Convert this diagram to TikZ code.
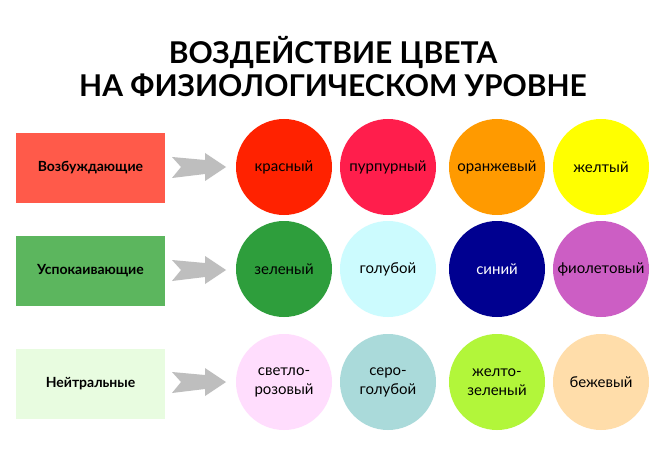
\documentclass[tikz,border=0pt]{standalone}
\usepackage{fontspec}
\setmainfont{Lato}
\usetikzlibrary{calc}
\definecolor{bred}{HTML}{FF5A4A}
\definecolor{bgreen}{HTML}{5CB65E}
\definecolor{bpale}{HTML}{E8FCE0}
\definecolor{c11}{HTML}{FF2200}
\definecolor{c12}{HTML}{FF1E4C}
\definecolor{c13}{HTML}{FF9A00}
\definecolor{c14}{HTML}{FFFF00}
\definecolor{c21}{HTML}{2E9E3C}
\definecolor{c22}{HTML}{CCFBFE}
\definecolor{c23}{HTML}{000090}
\definecolor{c24}{HTML}{CC5EC4}
\definecolor{c31}{HTML}{FFDDFD}
\definecolor{c32}{HTML}{AADADA}
\definecolor{c33}{HTML}{B2F63A}
\definecolor{c34}{HTML}{FFDDAA}
\definecolor{arrowgray}{HTML}{BEBEBE}
\begin{document}
\begin{tikzpicture}[x=1pt,y=-1pt,
  catbox/.style={minimum width=149pt,minimum height=70pt,inner sep=0pt,font=\bfseries\fontsize{14}{16}\selectfont},
  colcirc/.style={circle,minimum size=96pt,inner sep=0pt,align=center,font=\fontsize{15}{19}\selectfont},
  fatarrow/.style={fill=arrowgray,draw=none}]
\useasboundingbox (0,0) rectangle (666,465);
\fill[white] (0,0) rectangle (666,465);
\node[font=\bfseries\fontsize{30}{33}\selectfont,align=center] (title) at (333,67) {ВОЗДЕЙСТВИЕ ЦВЕТА\\НА ФИЗИОЛОГИЧЕСКОМ УРОВНЕ};
% category boxes
\node[catbox,fill=bred] (b1) at (90.5,168) {Возбуждающие};
\node[catbox,fill=bgreen] (b2) at (90.5,271) {Успокаивающие};
\node[catbox,fill=bpale] (b3) at (90.5,383.5) {Нейтральные};
% arrows
\foreach \r/\y in {1/167,2/270,3/382}{
  \coordinate (a\r) at (172,\y);
  \fill[fatarrow] ($(a\r)+(0,-10)$) -- ($(a\r)+(33,-7)$) -- ($(a\r)+(33,-14)$) -- ($(a\r)+(54,0)$) -- ($(a\r)+(33,14)$) -- ($(a\r)+(33,7)$) -- ($(a\r)+(0,11)$) -- ($(a\r)+(9,0)$) -- cycle;
}
% row 1
\node[colcirc,fill=c11] (r11) at (284,167) {красный};
\node[colcirc,fill=c12] (r12) at (388,167) {пурпурный};
\node[colcirc,fill=c13] (r13) at (497,167) {оранжевый};
\node[colcirc,fill=c14] (r14) at (601,167) {желтый};
% row 2
\node[colcirc,fill=c21] (r21) at (284,269) {зеленый};
\node[colcirc,fill=c22] (r22) at (388,269) {голубой};
\node[colcirc,fill=c23,text=white] (r23) at (497,269) {синий};
\node[colcirc,fill=c24] (r24) at (601,269) {фиолетовый};
% row 3
\node[colcirc,fill=c31] (r31) at (284,382) {светло-\\розовый};
\node[colcirc,fill=c32] (r32) at (388,382) {серо-\\голубой};
\node[colcirc,fill=c33] (r33) at (497,382) {желто-\\зеленый};
\node[colcirc,fill=c34] (r34) at (601,382) {бежевый};
\end{tikzpicture}
\end{document}
